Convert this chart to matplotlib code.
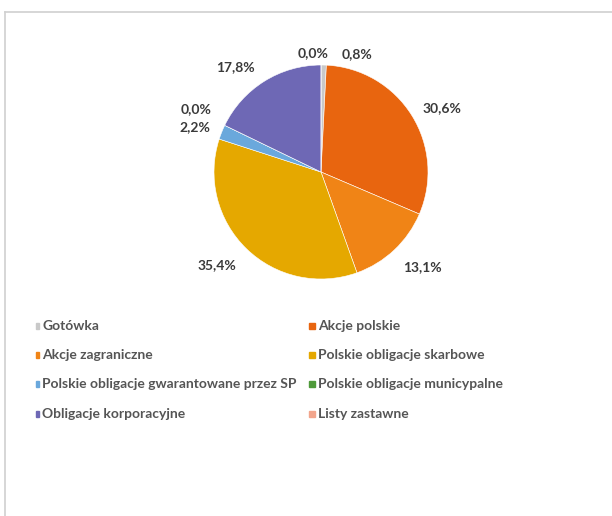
import numpy as np
import matplotlib
matplotlib.use('Agg')
import matplotlib.pyplot as plt
from matplotlib.patches import Rectangle
from matplotlib.lines import Line2D

plt.rcParams['font.family'] = ['Lato', 'DejaVu Sans']

# data
categories = ['Gotówka', 'Akcje polskie', 'Akcje zagraniczne', 'Polskie obligacje skarbowe',
              'Polskie obligacje gwarantowane przez SP', 'Polskie obligacje municypalne',
              'Obligacje korporacyjne', 'Listy zastawne']
shares = [0.8, 30.6, 13.1, 35.4, 2.2, 0.0, 17.8, 0.0]
colors = ['#c9c9c9', '#e8650f', '#f08416', '#e5a800', '#6aa8dc', '#4f9a3a', '#6e68b5', '#f2a58c']

# label nudges (pixels) so labels don't collide, like excel does
nudges = [(33, -18), (6, -8), (8, 4), (-9, 4), (0, -6), (-3, 4), (-13, -10), (-8, -17)]

W, H = 612, 516
fig = plt.figure(figsize=(W / 100, H / 100), dpi=100)

# pie geometry in pixels
cx, cy, R = 321, 172, 107
L = 1.5
side = 2 * R * L
ax = fig.add_axes([(cx - side / 2) / W, (H - cy - side / 2) / H, side / W, side / H])
wedges, _ = ax.pie(shares, colors=colors, startangle=90, counterclock=False, radius=1.0,
                   wedgeprops=dict(edgecolor='white', linewidth=0.4))
ax.set_xlim(-L, L)
ax.set_ylim(-L, L)
ax.set_aspect('equal')
ax.axis('off')

total = sum(shares)
cum = 0
for i, v in enumerate(shares):
    mid = 90 - (cum + v / 2) / total * 360
    cum += v
    r = 1.27
    x = r * np.cos(np.radians(mid))
    y = r * np.sin(np.radians(mid))
    txt = ('%.1f%%' % v).replace('.', ',')
    ax.annotate(txt, (x, y), xytext=(nudges[i][0] * 0.72, nudges[i][1] * 0.72),
                textcoords='offset points', ha='center', va='center',
                fontsize=10, fontweight='bold', color='#3a3a3a')

# legend, two columns
col_x = [36, 312]
row_y = [326, 355, 384, 414]
for i, name in enumerate(categories):
    xx = col_x[i % 2]
    yy = row_y[i // 2]
    mw = 3 if i % 2 == 0 else 6
    fig.patches.append(Rectangle(((xx + 3 - mw) / W, (H - yy - 3) / H), mw / W, 6 / H,
                                 transform=fig.transFigure, color=colors[i]))
    fig.text((xx + 6) / W, (H - yy) / H, name, ha='left', va='center',
             fontsize=10, fontweight='bold', color='#555555')

# chart frame (cropped on right/bottom)
fig.lines.append(Line2D([5 / W, 1], [1 - 12 / H, 1 - 12 / H], transform=fig.transFigure,
                        color='#d0d0d0', linewidth=1.2))
fig.lines.append(Line2D([5 / W, 5 / W], [0, 1 - 12 / H], transform=fig.transFigure,
                        color='#d0d0d0', linewidth=1.2))

fig.savefig('out.png', dpi=100)
